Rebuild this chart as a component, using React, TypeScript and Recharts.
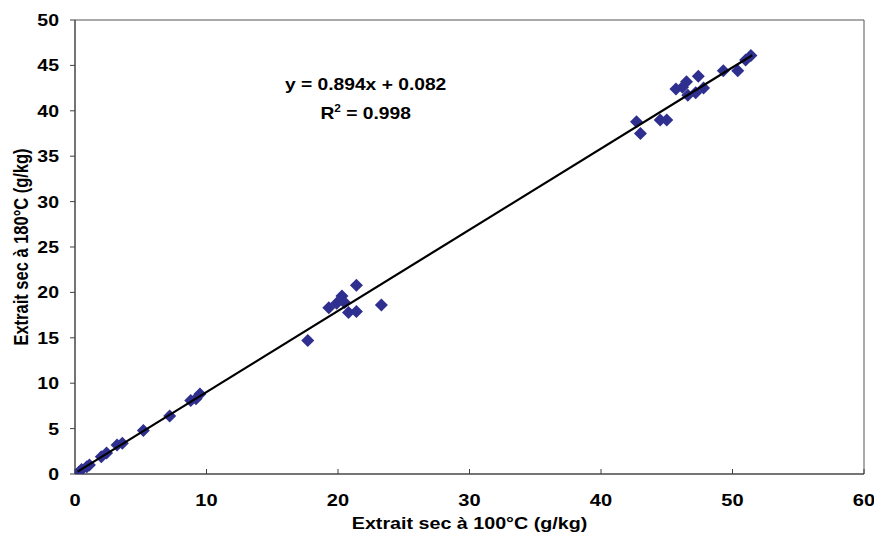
import React from "react";
import {
  ComposedChart,
  Scatter,
  XAxis,
  YAxis,
  ReferenceArea,
  ReferenceDot,
} from "recharts";

const xValues = [
  0.3, 0.5, 0.9, 1.1, 2.0, 2.4, 3.2, 3.6, 5.2, 7.2, 8.8, 9.2, 9.5,
  17.7, 19.3, 19.9, 20.3, 20.5, 20.8, 21.4, 21.4, 23.3,
  42.7, 43.0, 44.5, 45.0, 45.7, 46.2, 46.5, 46.6, 47.2, 47.4, 47.8, 49.3, 50.4, 51.0, 51.4,
];
const yValues = [
  0.2, 0.5, 0.8, 1.0, 1.9, 2.3, 3.2, 3.4, 4.8, 6.4, 8.1, 8.3, 8.8,
  14.7, 18.3, 18.8, 19.6, 18.9, 17.8, 17.9, 20.8, 18.6,
  38.8, 37.5, 39.0, 39.0, 42.4, 42.6, 43.2, 41.7, 42.0, 43.8, 42.5, 44.4, 44.4, 45.6, 46.1,
];
const slope = 0.894;
const intercept = 0.082;
const trendX = [0.2, 51.5];
const xTicks = [0, 10, 20, 30, 40, 50, 60];
const yTicks = [0, 5, 10, 15, 20, 25, 30, 35, 40, 45, 50];
const equationLines = ["y = 0.894x + 0.082", "R", "2", " = 0.998"];
const xTitle = "Extrait sec à 100°C (g/kg)";
const yTitle = "Extrait sec à 180°C (g/kg)";
const labelPos = { x: 22.1, y: 42.6 };

const points = xValues.map((x, i) => ({ x, y: yValues[i] }));
const trend = trendX.map((x) => ({ x, y: slope * x + intercept }));

const SX = 1.18;
const FONT = "'Liberation Sans', Arial, sans-serif";
const MARK = "#2E2F8E";

const Diamond = (props: any) => {
  const { cx, cy } = props;
  if (cx == null || cy == null) return <g />;
  const r = 6.5;
  return (
    <path
      d={`M${cx},${cy - r}L${cx + r},${cy}L${cx},${cy + r}L${cx - r},${cy}Z`}
      fill={MARK}
    />
  );
};

const NoDot = () => <g />;

const YTick = (props: any) => {
  const { x, y, payload } = props;
  return (
    <g transform={`translate(${x},${y}) scale(${SX},1)`}>
      <text x={0} y={0} dy="0.36em" textAnchor="end" fontFamily={FONT} fontWeight="bold" fontSize={16.5} fill="#000">
        {payload.value}
      </text>
    </g>
  );
};

const XTick = (props: any) => {
  const { x, y, payload } = props;
  return (
    <g transform={`translate(${x},${y}) scale(${SX},1)`}>
      <text x={0} y={0} dy="0.71em" textAnchor="middle" fontFamily={FONT} fontWeight="bold" fontSize={17} fill="#000">
        {payload.value}
      </text>
    </g>
  );
};

const XTitle = (props: any) => {
  const { viewBox } = props;
  const cx = viewBox.x + viewBox.width / 2;
  return (
    <g transform={`translate(${cx},${viewBox.y + 55}) scale(${SX},1)`}>
      <text x={0} y={0} textAnchor="middle" fontFamily={FONT} fontWeight="bold" fontSize={16.7} fill="#000">
        {xTitle}
      </text>
    </g>
  );
};

const YTitle = (props: any) => {
  const { viewBox } = props;
  const cy = viewBox.y + viewBox.height / 2;
  return (
    <g transform={`translate(${viewBox.x + 13},${cy}) scale(${SX},1) rotate(-90)`}>
      <text x={0} y={0} textAnchor="middle" fontFamily={FONT} fontWeight="bold" fontSize={16.5} fill="#000">
        {yTitle}
      </text>
    </g>
  );
};

const Equation = (props: any) => {
  const { viewBox } = props;
  const cx = viewBox.x + viewBox.width / 2;
  const cy = viewBox.y + viewBox.height / 2;
  return (
    <g>
      <g transform={`translate(${cx},${cy + 3}) scale(${SX},1)`}>
        <text x={0} y={0} textAnchor="middle" fontFamily={FONT} fontWeight="bold" fontSize={16.3} fill="#000">
          {equationLines[0]}
        </text>
      </g>
      <g transform={`translate(${cx},${cy + 32}) scale(${SX},1)`}>
        <text x={0} y={0} textAnchor="middle" fontFamily={FONT} fontWeight="bold" fontSize={16.3} fill="#000">
          {equationLines[1]}
          <tspan fontSize={10} dy={-7}>{equationLines[2]}</tspan>
          <tspan dy={7}>{equationLines[3]}</tspan>
        </text>
      </g>
    </g>
  );
};

export default function App() {
  return (
    <div style={{ position: "absolute", left: 0, top: 0, width: 874, height: 538, background: "#fff" }}>
      <ComposedChart
        width={874}
        height={538}
        margin={{ top: 20, right: 10, bottom: 24, left: 15 }}
      >
        <XAxis
          type="number"
          dataKey="x"
          domain={[0, 60]}
          ticks={xTicks}
          interval={0}
          allowDataOverflow
          height={40}
          stroke="#404040"
          tickSize={-5}
          tickMargin={25}
          tick={<XTick />}
          label={<XTitle />}
        />
        <YAxis
          type="number"
          dataKey="y"
          domain={[0, 50]}
          ticks={yTicks}
          interval={0}
          allowDataOverflow
          width={60}
          stroke="#404040"
          tickSize={5}
          tickMargin={11}
          tick={<YTick />}
          label={<YTitle />}
        />
        <ReferenceArea x1={0} x2={60} y1={0} y2={50} fill="none" stroke="#555" strokeWidth={1} ifOverflow="visible" />
        <Scatter data={points} shape={<Diamond />} isAnimationActive={false} />
        <Scatter
          data={trend}
          shape={<NoDot />}
          line={{ stroke: "#000", strokeWidth: 2.2 }}
          lineType="joint"
          isAnimationActive={false}
        />
        <ReferenceDot x={labelPos.x} y={labelPos.y} r={0} fill="none" stroke="none" label={<Equation />} ifOverflow="visible" />
      </ComposedChart>
    </div>
  );
}
